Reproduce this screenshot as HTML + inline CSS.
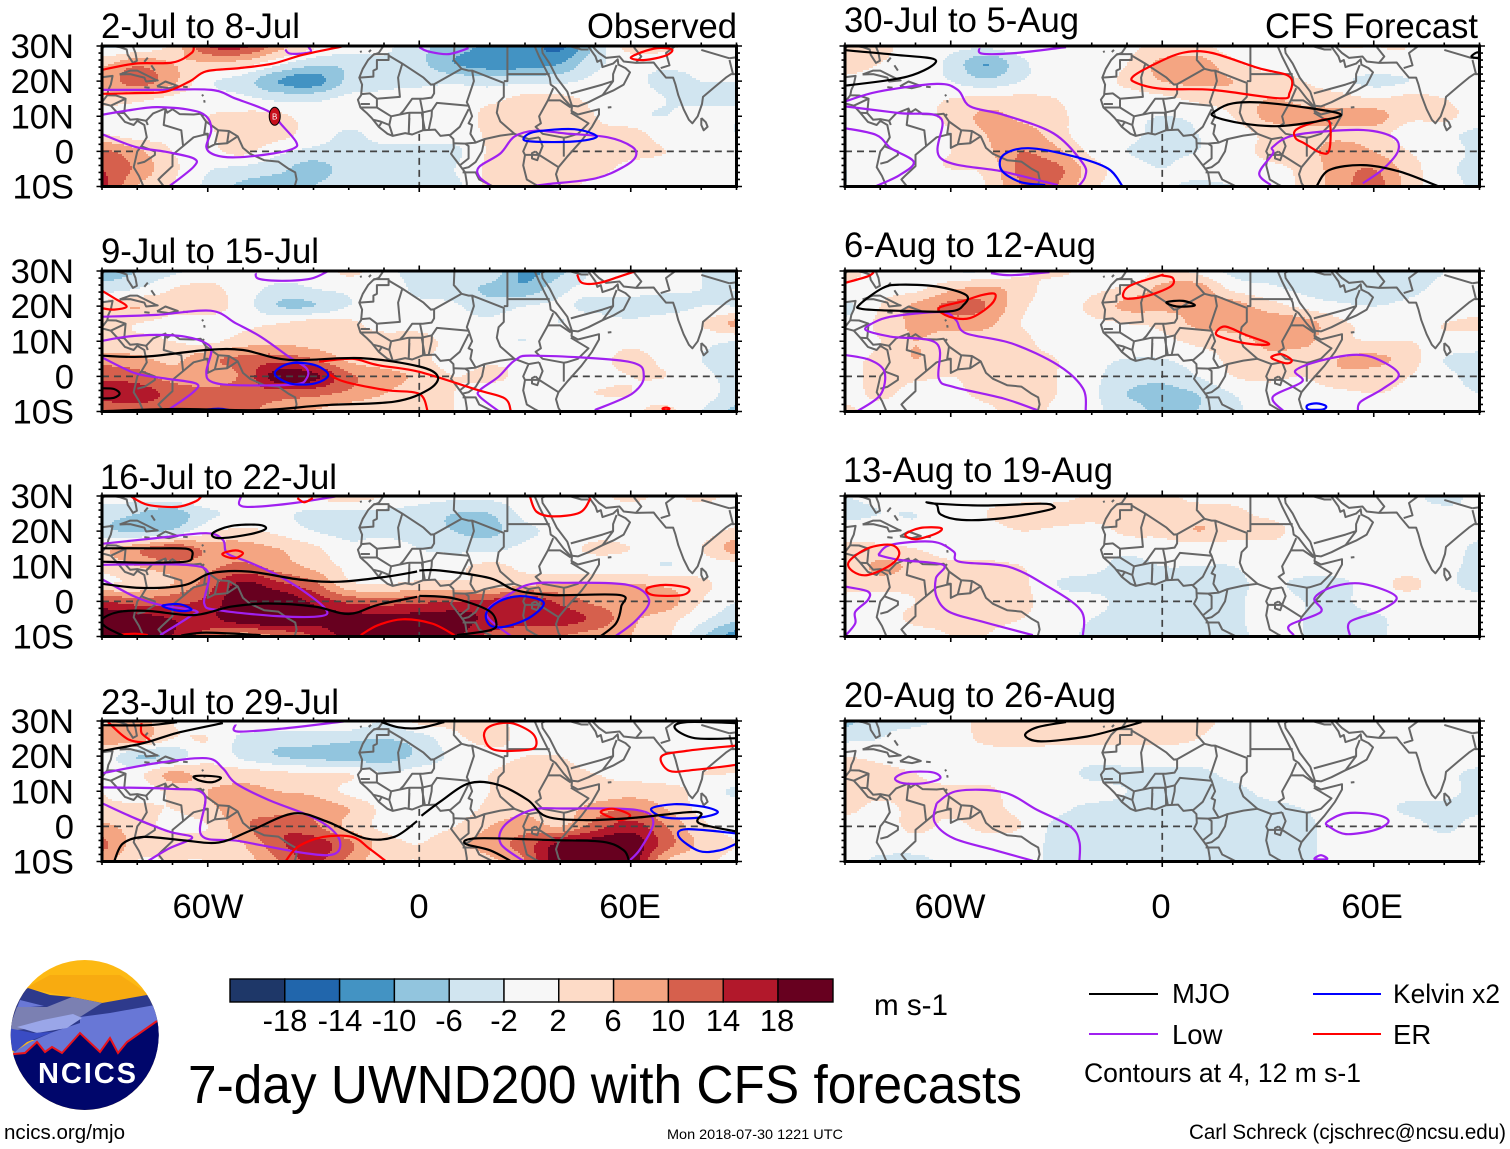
<!DOCTYPE html>
<html lang="en">
<head>
<meta charset="utf-8">
<title>7-day UWND200 with CFS forecasts</title>
<style>
html,body{margin:0;padding:0;background:#fff;width:1510px;height:1149px;overflow:hidden}
svg{display:block}
text{font-family:"Liberation Sans",Arial,sans-serif;fill:#000}
</style>
</head>
<body>
<svg id="chart" xmlns="http://www.w3.org/2000/svg" width="1510" height="1149" viewBox="0 0 1510 1149">
  <rect width="1510" height="1149" fill="#fff"/>
  <g id="panels"></g>

  <g font-size="35">
    <text x="101" y="38" font-size="35" textLength="199" lengthAdjust="spacingAndGlyphs">2-Jul to 8-Jul</text>
    <text x="587" y="38" font-size="35" textLength="150" lengthAdjust="spacingAndGlyphs">Observed</text>
    <text x="101" y="263" font-size="35" textLength="218" lengthAdjust="spacingAndGlyphs">9-Jul to 15-Jul</text>
    <text x="100" y="489" font-size="35" textLength="237" lengthAdjust="spacingAndGlyphs">16-Jul to 22-Jul</text>
    <text x="101" y="714" font-size="35" textLength="238" lengthAdjust="spacingAndGlyphs">23-Jul to 29-Jul</text>
    <text x="844" y="32" font-size="35" textLength="235" lengthAdjust="spacingAndGlyphs">30-Jul to 5-Aug</text>
    <text x="1265" y="38" font-size="35" textLength="213" lengthAdjust="spacingAndGlyphs">CFS Forecast</text>
    <text x="844" y="257" font-size="35" textLength="252" lengthAdjust="spacingAndGlyphs">6-Aug to 12-Aug</text>
    <text x="843" y="482" font-size="35" textLength="270" lengthAdjust="spacingAndGlyphs">13-Aug to 19-Aug</text>
    <text x="844" y="707" font-size="35" textLength="272" lengthAdjust="spacingAndGlyphs">20-Aug to 26-Aug</text>
  </g>

  <g id="yLabels"></g>

  <g font-size="34.6" text-anchor="middle">
    <text x="208" y="918">60W</text>
    <text x="419" y="918">0</text>
    <text x="630" y="918">60E</text>
    <text x="950" y="918">60W</text>
    <text x="1161" y="918">0</text>
    <text x="1372" y="918">60E</text>
  </g>

  <g>
    <defs><clipPath id="logoClip"><ellipse cx="84.7" cy="1035" rx="74" ry="75"/></clipPath></defs>
    <g clip-path="url(#logoClip)">
      <rect x="8" y="958" width="154" height="154" fill="#fdb913"/>
      <polygon points="26,988 50,975 120,975 150,995 102,1003" fill="#f8ab10"/>
      <polygon points="8,1000 28,988 50,995 72,997 102,1003 147,995 162,1000 162,1040 8,1040" fill="#2e3a8c"/>
      <polygon points="20,1000 44,1006 17,1008" fill="#6a78d6"/>
      <polygon points="8,1032 17,1007 47,1007 72,997 102,1003 80,1017 60,1025 17,1030" fill="#7b80b2"/>
      <polygon points="80,1017 110,1013 155,1005 162,1005 162,1060 8,1060 8,1056 30,1042 53,1032 80,1023" fill="#6877d6"/>
      <polygon points="17,1027 43,1020 73,1014 82,1018 67,1028 37,1033" fill="#9aa6e8"/>
      <polygon points="8,1028 33,1033 53,1032 27,1042 15,1052 8,1048" fill="#3a4cc4"/>
      <polygon points="8,1055 14,1054 25,1053 37,1042 45,1052 52,1047 62,1053 80,1033 100,1052 110,1038 118,1053 127,1042 157,1021 162,1018 162,1112 8,1112" fill="#00066b"/>
      <polyline points="8,1055 14,1054 25,1053 37,1042 45,1052 52,1047 62,1053 80,1033 100,1052 110,1038 118,1053 127,1042 157,1021" fill="none" stroke="#e8141c" stroke-width="2"/>
    </g>
    <text x="38" y="1083" font-size="29" font-weight="bold" textLength="98" lengthAdjust="spacing" style="fill:#fff">NCICS</text>
  </g>

  <g stroke="#000" stroke-width="1.4">
    <rect x="230" y="979" width="54.8" height="23" fill="#1e3768"/>
    <rect x="284.8" y="979" width="54.8" height="23" fill="#2166ac"/>
    <rect x="339.6" y="979" width="54.8" height="23" fill="#4393c3"/>
    <rect x="394.4" y="979" width="54.8" height="23" fill="#92c5de"/>
    <rect x="449.2" y="979" width="54.8" height="23" fill="#d1e5f0"/>
    <rect x="504" y="979" width="54.8" height="23" fill="#f7f7f7"/>
    <rect x="558.8" y="979" width="54.8" height="23" fill="#fddbc7"/>
    <rect x="613.6" y="979" width="54.8" height="23" fill="#f4a582"/>
    <rect x="668.4" y="979" width="54.8" height="23" fill="#d6604d"/>
    <rect x="723.2" y="979" width="54.8" height="23" fill="#b2182b"/>
    <rect x="778" y="979" width="55" height="23" fill="#67001f"/>
  </g>
  <g font-size="31" text-anchor="middle">
    <text x="285" y="1031">-18</text>
    <text x="340" y="1031">-14</text>
    <text x="394" y="1031">-10</text>
    <text x="449" y="1031">-6</text>
    <text x="504" y="1031">-2</text>
    <text x="558" y="1031">2</text>
    <text x="613" y="1031">6</text>
    <text x="668" y="1031">10</text>
    <text x="723" y="1031">14</text>
    <text x="777" y="1031">18</text>
  </g>
  <text x="874" y="1015" font-size="30" textLength="74" lengthAdjust="spacingAndGlyphs">m s-1</text>
  <text x="188" y="1103" font-size="54" textLength="834" lengthAdjust="spacingAndGlyphs">7-day UWND200 with CFS forecasts</text>

  <g>
    <line x1="1089" y1="994" x2="1158" y2="994" stroke="#000" stroke-width="2"/>
    <text x="1172" y="1003" font-size="27.5">MJO</text>
    <line x1="1089" y1="1034" x2="1158" y2="1034" stroke="#a020f0" stroke-width="2"/>
    <text x="1172" y="1044" font-size="27.5">Low</text>
    <line x1="1313" y1="994" x2="1381" y2="994" stroke="#0000ff" stroke-width="2"/>
    <text x="1393" y="1003" font-size="27" textLength="107" lengthAdjust="spacingAndGlyphs">Kelvin x2</text>
    <line x1="1313" y1="1034" x2="1381" y2="1034" stroke="#ff0000" stroke-width="2"/>
    <text x="1393" y="1044" font-size="27.5">ER</text>
    <text x="1084" y="1082" font-size="27" textLength="277" lengthAdjust="spacingAndGlyphs">Contours at 4, 12 m s-1</text>
  </g>

  <text x="4" y="1139" font-size="20" textLength="121" lengthAdjust="spacingAndGlyphs">ncics.org/mjo</text>
  <text x="667" y="1139" font-size="14" textLength="176" lengthAdjust="spacingAndGlyphs">Mon 2018-07-30 1221 UTC</text>
  <text x="1189" y="1139" font-size="21" textLength="317" lengthAdjust="spacingAndGlyphs">Carl Schreck (cjschrec@ncsu.edu)</text>
</svg>

<script>
// Axis tick values
const lonMajorTicks = [-60, 0, 60];
const latMajorTicks = [30, 20, 10, 0, -10];
const latTickLabels = ["30N", "20N", "10N", "0", "10S"];

// Color scale for zonal wind anomaly (m/s)
const levelBounds = [-18, -14, -10, -6, -2, 2, 6, 10, 14, 18];
const levelColors = ["#1e3768", "#2166ac", "#4393c3", "#92c5de", "#d1e5f0", "#f7f7f7", "#fddbc7", "#f4a582", "#d6604d", "#b2182b", "#67001f"];

// Wind grids: rows 30N to 10S every 5 deg, columns 90W to 90E every 10 deg
const wind1 = [
[-3,-1,3,14,15,8,3,0,-1,-5,-8,-11,-12,-15,-5,4,3,0,0],
[5,9,6,5,4,-1,-5,-5,-3,-5,-10,-12,-12,-10,-3,-1,-1,-1,0],
[7,12,7,-1,-4,-10,-12,-5,-3,-3,-3,-4,-3,-3,-1,-1,-3,-2,-2],
[4,3,1,0,-1,-3,-3,-1,-1,0,1,1,3,3,1,0,-2,-3,-2],
[0,0,0,2,3,3,0,0,0,2,0,3,3.5,4,2,-1,-2,0,-2],
[2,0,1,1.5,4,3.5,0,-2.5,-0.5,0,0,2.5,3,6,3,3.5,0,-1,-2],
[11,7,2,1,3,-1,-3,-3,-3,-3,-3,2.5,3,3,3,3,2,-1,-1],
[14,9,3,-1.5,-3,-5,-8,-4,-3,-3,-2,3,4,3.5,3,1,0,-1,-1],
[15,6,2,-3,-7,-8,-6,-3,-3,-3,-3,3,3,3,1,0,0,0,-1]];
const wind2 = [
[-8,-6,-3,0,0,0,-1,3,-1,-3,-3,-3,-11,-7,-1,1,1,-2,-3],
[-4,-2,2,3,0,-3,-2,-1,0,-3,-4,-7,-9,-3,-1,0,-1,-2,-2],
[4,6,3,4,0,-6,-6,-2,-1,-1,-1.5,-4,-2,-1.5,-3,-4,-4,-2,-2],
[3,2,1,0,1,2,4,3,0,0,-1,-1,0,-2,0,-1,1,2,7],
[3,3,2,1,4,5,4,3,4,4,0,-1,-2,0,0,1,0,-1,-2],
[8,7,5,9,11,12,10,5,3,3,0,1,1,1,1,3,1,-2,-3],
[13,12,8,7,11,20,19,11,8,5,2,3,1,1,1,2,2,-1,-3],
[15,16,13,12,12,12,11,9,6,3,2,0,0,1,2,2,0,0,-4],
[12,12,11,12,11,8,6,3,2,3,2,2,1,1,0,1,3,-2,-7]];
const wind3 = [
[0,0,1,2,0,1,3,4,2,0,-1,-1,0,0,1,3,1,3,1],
[-4,-6,-8,-3,-1,-1,-3,-3,-3,-4,-6,-6,-1,0,0,0,0,0,0],
[-5,-7,-5,1,3,1,-2,-3,-3,-4,-6,-7,-3,-1,0,0,-2,0,3],
[5,9,13,9,8,6,3,-1,0,-2,-3,-3,-1,0,3,2,0,2,8],
[3,6,8,9,11,8,5,1,0,0,1,3,1,0,0,0,-2,0,0],
[2,3,6,12,19,15,11,3,2,3,3,3,5,6,6,6,5,3,0],
[14,12,13,15,22,22,17,13,12,13,14,15,17,13,9,8,8,2,-2],
[22,20,18,17,21,23,20,20,20,20,20,17,16,16,13,7,4,-1,-5],
[20,20,18,12,8,10,14,20,22,22,19,13,11,10,8,6,3,-5,-12]];
const wind4 = [
[5,8,2,0,1,1,1,1,-2,3,3,3,1,0,0,0,0,1,1],
[9,8,2,2,-3,-4,-4,-5,-6,-4,1,3,1,0,0,0,0,1,0],
[1,-6,-5,1,-3,-6,-7,-8,-8,-5,-1,1,2,2,0,0,1,1,1],
[2,1,7,4,4,3,2,2,-2,0,0,2,3,3,2,1,1,2,2],
[2,0,3,6,7,6,5,1,-1,0,0,2,3,3,3,4,3,1,-3],
[3,3,2,5,8,8,9,6,1,0,0,3,5,4,8,10,6,1,1],
[7,4,1,2,9,13,11,5,1,0,2,6,8,6,12,16,10,3,1],
[11,4,4,4,6,13,16,11,4,2,5,8,12,19,21,21,12,5,2],
[8,2,2,2,4,10,15,9,3,2,3,5,10,22,23,21,6,3,1]];
const wind5 = [
[3,3,0,-1,-1,0,0,-1,1,3,3,0,-2,1,2,2,2,0,0],
[4,2,0,-3,-10,-3,0,-1,2,7,8,3,0,1,1,1,1,0,0],
[1,0,0,-2,-5,-2,0,0,3,6,7,6,4,2,-1,-3,-2,0,1],
[0,1,1,2,3,3,2,0,0,1,3,4,6,5,4,2,3,2,0],
[0,1,1,3,7,5,3,0,-1,-2,-1,2,7,7,7,8,3,3,0],
[-1,0,0,2,6,8,4,-1,-1,-3,-2,0,3,5,5,4,0,-1,-3],
[-1,-1,1,2,5,10,7,1,-2,-3,-2,0,3,4,8,6,2,0,-3],
[-2,0,1,2,3,11,11,4,0,-2,0,0,1,3,8,10,4,-1,-3],
[-2,-1,0,-2,2,10,10,3,0,-1,-3,-2,-1,3,8,12,4,0,-3]];
const wind6 = [
[3,1,0,-2,-2,1,3,0,-2,3,1,-3,-4,-3,-2,-3,-4,-2,0],
[1,1,1,5,7,4,0,1,3,7,8,1,-1,-3,-5,-5,-3,-1,0],
[-3,2,7,11,10,3,0,3,7,7,7,8,4,1,-1,-2,-1,-1,0],
[-1,3,7,8,7,2,0,1,2,3,7,8,9,8,3,1,1,2,3],
[0,2,6,3,4,3,0,-1,0,1,3,4,7,7,3,2,2,1,0],
[1,3,6,3,3,3,2,-1,-2,-2,0,3,5,4,6,7,4,-2,-3],
[0,4,3,2,3,3,2,-1,-4,-5,-2,2,3,2,5,4,2,-1,-3],
[0,3,0,1,3,4,2,-1,-6,-7,-6,-2,0,0,1,2,1,-1,-2],
[3,0,0,0,1,4,1,-1,-4,-7,-6,-3,0,0,0,1,0,-1,-2]];
const wind7 = [
[-2,-1,0,0,0,0,0,3,4,3,1,1,0,0,0,0,-1,-3,-1],
[-3,-2,-2,-1,2,5,5,4,4,3,4,3,1,0,0,0,-1,-1,-2],
[0,0,-1,0,0,2,1,0,3,3,6,4,4,0,0,0,0,0,-1],
[3,3,2,0,0,0,0,-1,-1,0,0,0,0,0,0,0,0,0,-3],
[3,7,5,3,3,2,0,-1,-3,-2,-2,-2,0,0,0,0,0,-1,-3],
[3,4,3,3,4,3,-2,-3,-3,-3,-3,-3,-1,-3,-3,0,3,-1,-3],
[1,0,2,3,4,3,0,-1,-3,-3,-3,-3,0,-2,-3,0,0,0,-1],
[0,0,3,3,3,2,0,-2,-3,-3,-3,-3,0,-2,-3,-3,0,0,0],
[0,-1,0,2,2,0,0,-3,-3,-3,-3,-3,-1,-2,-3,-3,0,0,0]];
const wind8 = [
[-7,-3,-3,0,3,3,3,3,3,3,3,1,0,0,0,1,2,0,-1],
[-3,-2,0,0,3,4,3,3,3,3,2,0,0,0,0,0,0,0,0],
[2,1,0,0,0,0,0,0,0,0,0,0,0,0,0,0,0,0,0],
[3,3,2,0,0,0,0,-3,-3,-3,-3,-1,0,0,0,0,0,-1,-3],
[3,3,3,3,3,0,0,0,-2,-3,-3,-3,-1,0,0,0,0,-1,-3],
[3,1,3,3,3,1,-1,-3,-3,-3,-3,-3,-3,-2,0,0,-3,-3,-3],
[0,0,3,1,3,2,-3,-3,-3,-3,-3,-3,-3,-3,0,2,0,-3,0],
[0,0,0,0,0,0,-3,-3,-3,-4,-3,-3,-3,-3,0,0,0,0,0],
[0,-3,-3,-1,0,0,-3,-3,-3,-3,-3,-3,-3,-3,0,0,0,0,0]];

// Contour lines: [lons, lats, closed]
const mjo1 = [];
const low1 = [
[[-90,-74.5,-59,-52,-42.6,-39,-35,-35.5,-41.5,-52,-58,-60.4,-59,-60.4,-65,-74.5,-83,-90],[17.5,17.5,17.5,15,11.3,7.5,2.8,0.9,-0.6,-1.7,-1,1.3,6.1,10,11.8,12.6,11.6,10.4],false],
[[-90,-80.6,-72,-64,-64,-71],[4.9,1.3,-0.1,-2,-4.4,-10],false],
[[-38,-36.5,-31,-31.4],[29,27.8,28.2,29.7],false],
[[0,2.4,8.3,14],[29.7,28.5,27.7,29.4],false],
[[20,17,17,23,27,33,41.5,53.5,60.4,61.4,58,50,36.7,33],[-9.6,-7.2,-4.4,-0.6,4.2,5.9,5.1,4,1.3,-1.5,-4.4,-7.7,-9.3,-9.8],false]];
const kelvin1 = [[[29.6,33,44,50.4,43.8,32],[3.7,5.6,6.3,4.2,2.8,2.8],true]];
const er1 = [
[[-90,-80.6,-70,-64.6,-64],[23.2,25,25.3,28,30],false],
[[-90,-80.6,-72,-65,-60.4,-51,-41.5,-33,-21.3],[16.4,16.6,17,20,22.8,23.7,25,27.5,30],false],
[[60,63,67.5,71.7,70,64],[26.6,28.2,29.4,29,27.3,26],true]];

const mjo2 = [
[[-90,-78,-60.4,-50,-37,-16.6,0,5.3,2.4,-7.1,-27,-45,-68.7,-90],[5.9,5.6,7.5,7.5,4.7,5.2,2.8,-0.1,-3.9,-7.2,-8.2,-9.6,-9.3,-9.9],false],
[[-90,-86.6,-85,-86.6,-90],[-3.4,-3.6,-4.9,-6.1,-6.3],false]];
const low2 = [
[[-90,-74.6,-59.2,-52,-45,-37,-32,-32,-35.5,-52,-59,-60.4,-59,-60.4,-66.4,-74.6,-83,-90],[17,17.5,18.7,15.1,11.3,5.6,2.3,-0.6,-2.3,-2.5,-1.5,1.3,7,9.4,11.3,11.8,11.3,10.1],false],
[[-90,-80.6,-72,-63.4,-64,-71.7],[5.4,0.9,-0.6,-2,-4.4,-9.9],false],
[[-46.4,-45.6,-39,-30.8,-26],[29.4,27.8,27.2,27.8,29.9],false],
[[22.5,17.2,17.2,22.5,27.3,33,59.2,63.7,60.4,49.8],[-9.9,-5.8,-3.9,-0.1,4.7,5.9,4.2,0.2,-4.9,-9.6],false]];
const kelvin2 = [
[[-62.8,-57,-53.3],[-9.7,-9.2,-9.7],false],
[[-41,-36.7,-29.6,-25.8,-29.6,-36.7],[0.9,3.7,3.2,0.4,-2,-2],true]];
const er2 = [
[[-90,-86.6,-83,-86.6,-90],[24.4,22.3,19.9,19,19.4],false],
[[44.8,46.2,51,57,61.6],[29,26.6,26.6,28.5,30],false],
[[-28.4,-19,-11.8,0,16.6,24.3,26],[4.2,5,3.2,1.3,-3.9,-6.3,-10],false],
[[-26,-21.3,-9.5,0,2.4],[0.9,-1.5,-3.9,-5,-10],false],
[[69,70,71,70],[-9.2,-8.9,-9.2,-9.7],true]];

const mjo3 = [
[[-58.6,-53.3,-45.6,-43.6,-48.6,-56.9],[19.4,21.5,21.8,20.6,19,18],true],
[[-90,-74.6,-65.6,-64.4,-66.4,-77,-90],[15.1,15.1,14.9,12.8,11.3,11,11.3],false],
[[-90,-78.2,-66.4,-59.2,-48.6,-33.2,-22.5,-9.5,-0.6],[5,3.8,4.7,8,8.5,6.1,5.6,7,8.5],false],
[[0,5.9,20.1,27.2,37.9,57,57.3,55.8,51.5],[8.8,8.8,6.6,3.2,1.8,1.8,-1.5,-6.3,-9.9],false],
[[-84,-89,-90,-85.3,-77,-64,-53.3,-42.7,-29.6,-20,-11.8,-0.6],[-9.8,-7.2,-5.1,-3,-2.7,-3.9,-1.5,-0.6,-1.5,-3.6,-1,1.3],false],
[[0,9.5,19.5,21.9,20.1,10.7],[1.6,0.9,-2.5,-6.3,-8.2,-9.6],false],
[[-67.5,-60.4,-45],[-9.7,-8.9,-9.6],false]];
const low3 = [
[[-90,-74.6,-60.4,-55.7,-54.5,-48.6,-40.3,-33.2,-26.7,-27.8,-40.3,-56.9,-61,-59.8,-66.4,-90],[16.4,18,19.4,17.5,13.7,11.3,7.5,3.2,-2,-4.2,-4.2,-2.5,-0.6,8,10.4,10.4],false],
[[-90,-80.6,-73.5,-63.4,-65.2,-73.5],[6.3,1.3,-1,-2.7,-4.4,-9.6],false],
[[-50.6,-51,-47.4,-35.5,-23.7],[29.7,27.5,26.9,28,29.9],false],
[[26,19,26,32,41.5,59.2,65.2,61.6,55.7],[-9.9,-3.4,2.3,5,5.3,4.7,0.4,-5.3,-9.9],false]];
const kelvin3 = [
[[-72.9,-68.1,-64.6,-68.1],[-1.3,-0.8,-2.3,-2.7],true],
[[19,22.5,28.4,34.4,35,30.8,24.3,20.1],[-3.4,-0.1,1.5,0.4,-1.5,-4.9,-7.2,-6.8],true]];
const er3 = [
[[-81.8,-77,-68.7,-63.4,-61.8],[29.9,27.5,26.9,28.5,29.9],false],
[[-34.6,-32.6,-30.2],[29.4,28.2,29.4],false],
[[31.4,33.2,37.9,45.6,48.6],[29.9,25.6,24.2,25.3,29.4],false],
[[-55.7,-52.1,-50,-52.1,-55],[13.7,14.5,13.7,12.3,12.8],true],
[[64.6,69.9,76.4,74.6,66.3],[3.7,4.7,3.7,1.8,1.8],true],
[[-16.6,-11.8,-4.7,3.6,10],[-9.6,-6.8,-5.1,-6.3,-9.6],false],
[[-85,-80.6,-77],[-9.5,-9.2,-9.6],false]];

const mjo4 = [
[[-90,-77,-68.7],[28.8,28.8,29.7],false],
[[-90,-78.2,-68.7,-55.7],[21.5,23.7,26.6,29.4],false],
[[-64,-60.4,-56.3,-58.6,-62.2],[14.2,14.4,13.9,12.6,13],true],
[[-10.7,-5.9,0,7.1],[29.7,28.2,28,29.7],false],
[[-86.5,-84.1,-78.2,-67.5,-56.9,-47.4,-35.5,-26,-15.4,-7.1,-0.6],[-9.9,-4.9,-3,-3.9,-4.6,-1,3.7,1.3,-3.4,-3,1.5],false],
[[0.6,5.9,14.2,22.5,30.8,36.1,47.4,61.6,75.8,80,79.4,90],[3,7,12.3,11.8,7.5,2.8,1.8,2.5,4,3.7,0.9,-1.5],false],
[[26,20.1,13,16.6,37.9,52.1,58,59.5],[-9.9,-6.8,-4.9,-3.4,-3.9,-4.4,-6.8,-9.9],false],
[[90,75.8,72.5,78.2,90],[29.4,29.7,28,25.1,25.1],false]];
const low4 = [
[[-90,-74.6,-60.4,-55.7,-52.1,-42.7,-29.6,-23,-23.7,-32,-51,-61.8,-61,-71,-90],[15.1,18,19.4,16.5,12.3,7.5,2.3,-3,-7.7,-7.7,-4.2,-2.5,9,10.7,11.1],false],
[[-90,-80.6,-71,-64.4,-71,-77],[6.6,2.3,-1.5,-3.2,-6.3,-9.9],false],
[[-52.1,-51.6,-39.1,-21.3],[29,27,27.8,29.9],false],
[[29.6,23.1,24.3,32,41.5,61.6,66.4,62.8,59.5],[-9.9,-4.9,0.4,4.7,5.1,4.7,1.3,-6.3,-9.9],false]];
const kelvin4 = [
[[65.8,72.3,80.6,84.7,79.4,69.9],[5,6.3,5.6,4,2.5,2.5],true],
[[90,75.8,73.7,79.4,85.3,90],[-2,-0.8,-3,-7,-6.8,-4.9],false]];
const er4 = [
[[-88.3,-82.4,-76.4,-78.8,-78.8],[29.7,24.7,24.2,26.6,29.4],false],
[[18.4,20.1,26,32,33.2,30.8,21.3],[25.6,28.5,29.4,26.6,23.2,21.8,21.8],true],
[[90,75.8,68.7,71,78.2,90],[23,21.5,19.9,15.8,16.1,17.5],false],
[[51.5,55.1,59.8,57],[4,5,3.2,1.8],true],
[[-37.9,-34.4,-27.3,-19,-14.2,-9.5],[-9.9,-5.8,-3,-3,-6.3,-9.9],false]];

const mjo5 = [
[[-90,-75.8,-64.2,-72.3,-90],[28.8,27.5,25.9,21.3,18.7],false],
[[14.8,20.1,30.8,49.8,46.2,33.2,22.5,14.8],[11.3,13.7,13.7,10.9,9,7.2,8,9.9],true],
[[43.8,47.4,57,67.5,78.2],[-9.9,-5.3,-3.9,-5.8,-9.9],false],
[[87.7,89.5,90],[27,28.2,26.6],true]];
const low5 = [
[[-90,-80.6,-64,-58,-54.5,-45,-30.8,-22.5,-21.9,-23.7],[14.2,17,19.2,17.5,12.8,10.4,5.1,-3.4,-7.2,-9.9],false],
[[-90,-74.6,-62.8,-62.8,-45,-29.6],[12.8,10.9,9.4,-2,-5.8,-9.6],false],
[[-90,-81.2,-77,-70.5,-74.6,-81.2],[6.6,4.7,0.9,-3,-6.8,-9.9],false],
[[-51.9,-51,-41.5,-27.3],[29.4,27.8,28,29.7],false],
[[30.8,27.5,31.4,31.4,37.9,55.7,65.2,67,62.8,56.9],[-9.6,-6.3,-0.6,1.3,4.7,6.1,4.2,0.4,-4.9,-9.1],false]];
const kelvin5 = [[[-11.3,-15.4,-24.9,-37.9,-45,-45.6,-40.3,-33.2],[-9.9,-4.9,-1.5,0.9,-1,-5.3,-8.7,-9.6],false]];
const er5 = [
[[-0.6,6.5,14.2,27.3,36.1,36.1,33.2,14.2,0,-7.1,-8.3],[25.6,28.2,28,23.7,21.3,16.6,15.1,17.5,17.8,19.4,21.3],true],
[[37.9,43.8,47.4,47.4,45,40.3,37.9],[6.1,8.5,8.5,0.4,-0.4,2.3,3.7],true]];

const mjo6 = [
[[-85.9,-79.4,-74.6,-64,-55.7,-56.3,-60.4,-75.8,-85.2],[20.4,25.1,26.1,25.6,23.2,20.4,18.5,18.7,19.2],true],
[[1.2,5.9,9.2,4.1],[21.1,21.5,20.2,19.9],true]];
const low6 = [
[[-82.3,-77,-62.8,-58.6,-55.7,-42.7,-29.6,-22.5,-21.7],[15.1,17,18.3,16.1,12.3,9.4,3.2,-3.4,-9.9],false],
[[-82.3,-84.1,-77,-64,-63.4,-59.2,-45,-35.5],[15.1,13.2,11.3,9.4,-0.6,-3,-6.3,-9.6],false],
[[-90,-83,-78.8,-80,-86.5],[6.1,4.7,1.3,-5.3,-9.9],false],
[[-48.6,-42.7,-32],[29.4,28.8,29.7],false],
[[34.4,31.4,39.7,37.9,47.4,58,67,62.8,56.3,55.5],[-9.9,-5.8,-1.5,1.8,5.1,5.9,0.9,-3.4,-7.2,-9.9],false]];
const kelvin6 = [[[41.2,43.8,46.4,45.6,41.5],[-8.2,-7.7,-8.4,-9.4,-9.4],true]];
const er6 = [
[[-90,-83.5,-81.8],[26.6,28.5,29.7],false],
[[-63.4,-56.9,-51,-47.4,-48.6,-54.5,-60.4],[19.4,21.3,23.2,23.4,20.4,16.6,17],true],
[[-10.7,-9.5,-0.6,0,3,2.4,-4.7],[22.3,25.6,28.7,28.7,28,25.6,22.8],true],
[[15.2,17.8,23.7,29.6,29.6,23.7,17.2],[12.3,14.2,11.8,9.7,9,9.4,11],true],
[[31,33.8,36.7,35.5,32],[5.6,6.3,4.7,3.7,4.7],true]];

const mjo7 = [[[-66.9,-64,-62.8,-56.9,-45,-32,-31,-34.4,-51,-64],[28.2,27.5,24.7,23.2,23.7,26.1,27.2,27.8,27.3,27.8],true]];
const low7 = [
[[-80.6,-77,-65.2,-59.2,-57.6,-43.8,-33.2,-23.1,-22.5],[13.2,16.1,17,14.2,11.3,9.9,4.7,-2.5,-9.9],false],
[[-80.6,-74.6,-62.2,-64.2,-64,-60.4,-51,-36.7],[13.2,11.8,10.4,6.6,1.3,-3,-5.8,-9.6],false],
[[-90,-83.5,-83.5,-87.1,-87.1,-90],[4.2,2.8,0.4,-3,-6.3,-9.9],false],
[[37.3,36.1,45,43.2,48.6,56.9,66.4,61.6,53.3,53.3],[-9.6,-6.8,-3,0.9,4.2,5,1.3,-2.7,-5.8,-9.9],false]];
const kelvin7 = [];
const er7 = [
[[-72.9,-68.7,-62.8,-64,-69.9],[19,20.9,20.9,19.4,17.7],true],
[[-88.9,-83.5,-77,-74.6,-77,-83.5,-87.7],[11.3,15.1,16.1,13.7,10.4,7.5,8.5],true]];

const mjo8 = [[[-27.3,-35.5,-38.9,-34.4,-21.3,-11.8,-5.9],[29.7,28.2,25.9,24.2,25.6,28,29.7],false]];
const low8 = [
[[-75.8,-72.3,-65.2,-63,-67.5,-73.5],[13.7,15.4,15.4,13.7,12.3,12.3],true],
[[-64,-58,-45,-35.5,-26,-23.5,-23.5],[6.6,10.1,9.7,4.7,-0.1,-4.4,-9.9],false],
[[-64,-64.6,-59.2,-47.4,-36.7],[6.6,1.3,-3.4,-6.8,-9.8],false],
[[46.8,52.1,60.4,64.2,60.4,52.1,47.4],[1.3,3.7,3.4,1.5,-1,-2.2,-0.1],true],
[[43.2,45,46.8],[-9.3,-8.2,-9.3],true]];
const kelvin8 = [];
const er8 = [];

// Tropical cyclone marker position in panel 1 [lon, lat]
const stormMarkers1 = [[-41, 10]];

// Base map (lon, lat pairs)
const mapCoasts = [
[[-90,29.2],[-89,30.3],[-85,29.7],[-83,29],[-82.7,27.5],[-81.2,25.2],[-80.1,25.8],[-80.5,28],[-81.3,30],[-81,31]],
[[-90,21.1],[-87,21.5],[-87.5,19],[-88.2,17.5],[-88.5,16],[-86,15.9],[-83.3,15],[-83.6,12],[-83.7,10.9],[-82,9],[-80,9.2],[-77.5,8.7],[-75.5,10.8],[-72,12.2],[-71.5,11],[-70,12],[-68,10.6],[-64,10.5],[-62,10.7],[-60.5,8.5],[-57,6],[-54,5.8],[-51.5,4.3],[-50,1],[-48,-0.7],[-44,-2.5],[-40,-2.9],[-37,-5],[-35.2,-6],[-34.8,-8],[-35.5,-10.5]],
[[-90,13.7],[-87.5,13],[-85.7,11],[-83.5,8.4],[-81,7.5],[-80,8.7],[-78,7.5],[-77.3,4],[-78.8,1.5],[-80,0],[-81,-4.5],[-79.5,-7],[-78,-10.5]],
[[-85,21.9],[-82,23],[-80,23],[-75,20.5],[-74.2,20.2],[-77.5,19.9],[-78,21],[-82,22],[-85,21.9]],
[[-74.4,18.5],[-72,19.9],[-68.5,18.6],[-71,18],[-74.4,18.5]],
[[-78,18.3],[-76.5,18.1]],[[-67,18.4],[-65.7,18.3]],[[-78,25.5],[-77,26.7]],[[-76,24.5],[-75,23]],[[-61.6,16.2],[-61.3,15.7]],[[-61,14.6],[-60.9,13.9]],[[-61.5,10.6],[-61,10.2]],[[-16.8,28.3],[-16.3,28.5]],[[-14.3,28.3],[-13.7,28.9]],[[53.5,12.5],[54.5,12.6]],
[[-9.8,30.5],[-11.5,28],[-13,27.5],[-14.5,26],[-16,23.5],[-17,21],[-16.2,19],[-16.5,16],[-17.4,14.7],[-16.7,12.5],[-15,11],[-13.5,9.5],[-11.5,7],[-9,5],[-7.5,4.4],[-4,5.2],[-2,4.8],[1,6],[4.5,6.2],[6,4.4],[8.5,4.7],[9.7,3.5],[9.8,1],[9,-0.7],[11.5,-4],[13,-6],[13.5,-9],[13.5,-10.5]],
[[32.5,30.5],[34,27],[35.5,24],[37,21],[37.3,19],[38.7,18],[41,15],[43.3,12.5],[43.2,11.5],[45,10.5],[51,12],[51,10.5],[49,7],[46,3],[42,-1.5],[39.5,-4.5],[38.8,-6.5],[39.5,-9],[40.5,-10.5]],
[[34.8,29.5],[35,28],[37,25],[39,21],[42,17],[43.3,13],[45,12.8],[48,14],[52,16],[55,17.3],[58,19],[59.8,22.5],[58.5,23.7],[56.5,24.7],[56.3,26.2],[55,25],[52,24],[51.5,26],[50.5,25.5],[50,27],[48,29.8]],
[[48.5,30.5],[51,28],[53,26.6],[56.8,27],[58,25.6],[61.5,25.2],[66.5,25.3],[67.5,24],[70,21],[72,21],[72.7,19],[73.5,16],[75,12],[76.5,9],[77.5,8],[79,10],[80.2,13.5],[80.5,15.5],[84,18.5],[87,21],[88.5,22],[90,22]],
[[80,9.5],[81.3,8.3],[81.8,7],[80.7,6],[80,7.5],[80,9.5]],
[[33,0],[34,-1],[33.5,-2.5],[32,-2],[32,-0.5],[33,0]]
];
const mapBorders = [
[[-13,27.7],[-8.7,27.7],[-8.7,26],[-12,26],[-12,23.5],[-13,23],[-13,21.3],[-17,21]],
[[-8.7,27.3],[-4.8,25],[-6,21],[-5.5,15.5],[-12,15],[-14,16.5],[-16.4,16.3]],
[[-4.8,25],[1.2,21],[3.3,19],[4.2,19.1],[4.2,16.5],[3.5,15.3],[1,15],[0.2,15],[-2,15],[-4.5,11.5],[-5.5,10.5],[-8,10],[-8.5,7.5],[-7.5,4.4]],
[[4.2,19.1],[12,23.5],[14,23],[15,23],[24,19.5],[24,15.5],[22.5,14],[22,11],[23,8.5],[27,5],[31,3.5]],
[[25,30.5],[25,20],[24,20]],[[25,22],[37,22]],
[[15,23],[15.5,20],[13.5,14],[14,13],[15,10],[14,8],[15,7.5],[14.5,5],[16,2.5],[18.5,3.5],[23,4.5],[27,5]],
[[10,30.5],[9.8,26],[12,23.5]],
[[-72,12],[-72.5,7.5],[-67.5,6],[-67,1.5],[-70,-1],[-70,-4.2],[-73,-7],[-74,-8],[-72,-10.5]],
[[-60.5,8.5],[-61,5],[-60,5],[-64,4],[-67,1.5]],[[-57,6],[-58,2]],[[-54,5.8],[-54.5,2.3]],[[-51.5,4.3],[-54.5,2.3],[-58,2],[-60,1],[-60,5]],
[[-79,1.5],[-75,0],[-75,-1],[-78,-3],[-80,-3.5]],[[-77.5,8.7],[-77,7.5]],[[-83.7,10.9],[-85.7,11]],[[-83.3,15],[-87.5,13]],[[-88.5,16],[-90,14]],
[[36.5,14.5],[34,10],[34.5,8],[33,7],[35,5],[41,3.9],[41.8,4],[45,5],[48,8],[43,11]],[[36.5,14.5],[38,18]],[[36.5,14.5],[40,14.5],[43,12.5]],[[41,-1.5],[41,3.9]],[[34,4],[35,1.5],[34,-1],[39.5,-4.5]],[[30,-1],[34,-1]],[[31,3.5],[34,4]],[[30,-1],[29.5,-4],[30.5,-8],[33,-9.5],[35,-10.5]],[[31,3.5],[29.5,0],[30,-1]],
[[12.3,-6],[16,-6],[17,-8],[22,-10.5]],[[12,-5],[14,-4.5],[16,-3],[17.8,0],[18.5,3.5]],
[[9.7,2.3],[13,2.2],[14,1.5],[14,-2],[11.5,-4]],[[13,2.2],[16,2.5]],
[[8.7,4.6],[11.5,7],[14,12]],[[2.7,6.3],[3.5,10],[3.6,11.7],[5,13.8],[14,13]],
[[-3,5],[-2.8,11],[1,11],[1.1,6]],[[1.6,6],[0.7,11],[3.6,11.7]],[[-3,11],[-5.5,10.5]],[[-2.8,9.5],[-3,5]],[[-13,9],[-11,8.5],[-8.5,7.5]],[[-11.5,7],[-10.5,8.5]],[[-12,12.5],[-8,10]],[[-16.7,12.5],[-12,12.5],[-12,15]],[[-16.6,13.5],[-14,13.5]],[[0.2,15],[1,11]],
[[34.8,29.5],[37,30.5]],[[39,31],[46,29],[48,29]],[[43,16.5],[52,19],[55,20],[52,16]],[[55,20],[55,22],[56,24.6]],
[[61.5,25.2],[63,27],[61,29.5],[61,31]],[[68.5,23.7],[71,24.5],[70,28],[74,31]],[[80,28.9],[88,26.5]],[[88,26],[89,22]],[[88,26.5],[90,26.8]]
];

const panelWidth = 634.5;
const panelHeight = 140.5;
const latTop = 30;
const latBottom = -10;

const panels = [
  {id:"panel-jul-2", x0:102, y0:46, wind:wind1, mjo:mjo1, low:low1, kelvin:kelvin1, er:er1},
  {id:"panel-jul-9", x0:102, y0:271, wind:wind2, mjo:mjo2, low:low2, kelvin:kelvin2, er:er2},
  {id:"panel-jul-16", x0:102, y0:496, wind:wind3, mjo:mjo3, low:low3, kelvin:kelvin3, er:er3},
  {id:"panel-jul-23", x0:102, y0:721, wind:wind4, mjo:mjo4, low:low4, kelvin:kelvin4, er:er4},
  {id:"panel-jul-30", x0:845, y0:46, wind:wind5, mjo:mjo5, low:low5, kelvin:kelvin5, er:er5},
  {id:"panel-aug-6", x0:845, y0:271, wind:wind6, mjo:mjo6, low:low6, kelvin:kelvin6, er:er6},
  {id:"panel-aug-13", x0:845, y0:496, wind:wind7, mjo:mjo7, low:low7, kelvin:kelvin7, er:er7},
  {id:"panel-aug-20", x0:845, y0:721, wind:wind8, mjo:mjo8, low:low8, kelvin:kelvin8, er:er8}
];

const SVGNS = "http://www.w3.org/2000/svg";
function xScale(p, lon) { return p.x0 + (lon + 90) / 180 * panelWidth; }
function yScale(p, lat) { return p.y0 + (latTop - lat) / (latTop - latBottom) * panelHeight; }
function make(tag, parent) {
  const el = document.createElementNS(SVGNS, tag);
  parent.appendChild(el);
  return el;
}
function crom(a, b, c, d, t) {
  return 0.5 * (2 * b + (c - a) * t + (2 * a - 5 * b + 4 * c - d) * t * t + (3 * b - a - 3 * c + d) * t * t * t);
}
function sampleField(g, lon, lat) {
  const fx = Math.max(0, Math.min(18, (lon + 90) / 10));
  const fy = Math.max(0, Math.min(8, (latTop - lat) / 5));
  const ix = Math.min(17, Math.floor(fx)), iy = Math.min(7, Math.floor(fy));
  const tx = fx - ix, ty = fy - iy;
  const vals = [];
  for (let j = -1; j <= 2; j++) {
    const r = g[Math.max(0, Math.min(8, iy + j))];
    vals.push(crom(r[Math.max(0, ix - 1)], r[ix], r[ix + 1], r[Math.min(18, ix + 2)], tx));
  }
  return crom(vals[0], vals[1], vals[2], vals[3], ty);
}
function levelOf(v) {
  let i = 0;
  while (i < levelBounds.length && v >= levelBounds[i]) i++;
  return i;
}
function smoothPath(pts, closed) {
  const n = pts.length;
  const at = function (i) {
    return closed ? pts[(i + n) % n] : pts[Math.max(0, Math.min(n - 1, i))];
  };
  let d = "M" + pts[0][0].toFixed(1) + " " + pts[0][1].toFixed(1);
  const segs = closed ? n : n - 1;
  for (let i = 0; i < segs; i++) {
    const p0 = at(i - 1), p1 = at(i), p2 = at(i + 1), p3 = at(i + 2);
    d += "C" + (p1[0] + (p2[0] - p0[0]) / 6).toFixed(1) + " " + (p1[1] + (p2[1] - p0[1]) / 6).toFixed(1) + " " +
      (p2[0] - (p3[0] - p1[0]) / 6).toFixed(1) + " " + (p2[1] - (p3[1] - p1[1]) / 6).toFixed(1) + " " +
      p2[0].toFixed(1) + " " + p2[1].toFixed(1);
  }
  return d + (closed ? "Z" : "");
}
function drawFill(p, g) {
  const cell = 2;
  const paths = levelColors.map(function () { return ""; });
  for (let py = 0; py < panelHeight; py += cell) {
    const lat = latTop - (py + cell / 2) / panelHeight * (latTop - latBottom);
    let runStart = 0, runLevel = -1;
    for (let px = 0; px <= panelWidth + cell; px += cell) {
      const lon = -90 + (px + cell / 2) / panelWidth * 180;
      const lev = px <= panelWidth ? levelOf(sampleField(p.wind, lon, lat)) : -2;
      if (lev !== runLevel) {
        if (runLevel >= 0) {
          paths[runLevel] += "M" + (p.x0 + runStart) + " " + (p.y0 + py) + "h" + (px - runStart) + "v" + cell + "h" + (runStart - px) + "z";
        }
        runStart = px;
        runLevel = lev;
      }
    }
  }
  paths.forEach(function (d, i) {
    if (!d || i === 5) return;
    const el = make("path", g);
    el.setAttribute("d", d);
    el.setAttribute("fill", levelColors[i]);
    el.setAttribute("shape-rendering", "crispEdges");
    
    
  });
}
function drawMapLines(p, g, lines, name) {
  let d = "";
  lines.forEach(function (line) {
    line.forEach(function (pt, i) {
      d += (i ? "L" : "M") + xScale(p, pt[0]).toFixed(1) + " " + yScale(p, pt[1]).toFixed(1);
    });
  });
  const el = make("path", g);
  el.setAttribute("d", d);
  el.setAttribute("fill", "none");
  el.setAttribute("stroke", "#666");
  el.setAttribute("stroke-width", "2");
  el.setAttribute("stroke-linejoin", "round");
  
  
}
function drawContours(p, g, lines, color, name) {
  lines.forEach(function (line) {
    const lons = line[0], lats = line[1];
    const pts = lons.map(function (lon, i) { return [xScale(p, lon), yScale(p, lats[i])]; });
    const el = make("path", g);
    el.setAttribute("d", smoothPath(pts, line[2]));
    el.setAttribute("fill", "none");
    el.setAttribute("stroke", color);
    el.setAttribute("stroke-width", "2.2");
    
    
  });
}
function drawDash(g, x1, y1, x2, y2, name) {
  const el = make("line", g);
  el.setAttribute("x1", x1);
  el.setAttribute("y1", y1);
  el.setAttribute("x2", x2);
  el.setAttribute("y2", y2);
  el.setAttribute("stroke", "#444");
  el.setAttribute("stroke-width", "1.7");
  el.setAttribute("stroke-dasharray", "7 5");
  
  
}
function drawTicks(p, g) {
  let d = "";
  for (let lon = -90; lon <= 90; lon += 10) {
    const x = xScale(p, lon), y0 = yScale(p, latTop), y1 = yScale(p, latBottom);
    const len = lonMajorTicks.indexOf(lon) >= 0 ? 5.5 : 3.5;
    d += "M" + x + " " + y0 + "v-" + len + "M" + x + " " + y1 + "v" + len;
  }
  for (let lat = latBottom; lat <= latTop; lat += 2) {
    const y = yScale(p, lat), x0 = xScale(p, -90), x1 = xScale(p, 90);
    const len = lat % 10 === 0 ? 5.5 : 3.5;
    d += "M" + x0 + " " + y + "h-" + len + "M" + x1 + " " + y + "h" + len;
  }
  const el = make("path", g);
  el.setAttribute("d", d);
  el.setAttribute("stroke", "#000");
  el.setAttribute("stroke-width", "1.6");
  el.setAttribute("fill", "none");
  
  
}

const root = document.getElementById("panels");
const defs = make("defs", root);
panels.forEach(function (p) {
  const clip = make("clipPath", defs);
  clip.setAttribute("id", "clip-" + p.id);
  const cr = make("rect", clip);
  cr.setAttribute("x", p.x0);
  cr.setAttribute("y", p.y0);
  cr.setAttribute("width", panelWidth);
  cr.setAttribute("height", panelHeight);

  const g = make("g", root);
  
  

  const inner = make("g", g);
  inner.setAttribute("clip-path", "url(#clip-" + p.id + ")");
  
  

  const bg = make("rect", inner);
  bg.setAttribute("x", p.x0);
  bg.setAttribute("y", p.y0);
  bg.setAttribute("width", panelWidth);
  bg.setAttribute("height", panelHeight);
  bg.setAttribute("fill", levelColors[5]);
  
  

  drawFill(p, inner);

  // Reference lines appear over ocean only
  const y0 = yScale(p, 0);
  drawDash(inner, xScale(p, -90), y0, xScale(p, -80), y0, "equator-line");
  drawDash(inner, xScale(p, -48), y0, xScale(p, 9), y0, "equator-line");
  drawDash(inner, xScale(p, 43), y0, xScale(p, 90), y0, "equator-line");
  drawDash(inner, xScale(p, 0), yScale(p, 5), xScale(p, 0), yScale(p, -10), "prime-meridian-line");

  drawMapLines(p, inner, mapBorders, "country-borders");
  drawMapLines(p, inner, mapCoasts, "coastlines");

  drawContours(p, inner, p.low, "#a020f0", "low-contour");
  drawContours(p, inner, p.er, "#ff0000", "er-contour");
  drawContours(p, inner, p.kelvin, "#0000ff", "kelvin-contour");
  drawContours(p, inner, p.mjo, "#000000", "mjo-contour");

  const frame = make("rect", g);
  frame.setAttribute("x", p.x0);
  frame.setAttribute("y", p.y0);
  frame.setAttribute("width", panelWidth);
  frame.setAttribute("height", panelHeight);
  frame.setAttribute("fill", "none");
  frame.setAttribute("stroke", "#000");
  frame.setAttribute("stroke-width", "3");
  
  

  drawTicks(p, g);
});

// Tropical cyclone marker
stormMarkers1.forEach(function (s) {
  const p = panels[0];
  const cx = xScale(p, s[0]), cy = yScale(p, s[1]);
  const e = make("ellipse", root);
  e.setAttribute("cx", cx);
  e.setAttribute("cy", cy);
  e.setAttribute("rx", 5.5);
  e.setAttribute("ry", 9);
  e.setAttribute("fill", "#c8101c");
  e.setAttribute("stroke", "#000");
  e.setAttribute("stroke-width", "1");
  
  
  const t = make("text", root);
  t.setAttribute("x", cx);
  t.setAttribute("y", cy + 3);
  t.setAttribute("font-size", "8");
  t.setAttribute("text-anchor", "middle");
  t.setAttribute("style", "fill:#fff");
  
  
  t.textContent = "B";
});

// Latitude labels for the left column
const yGroup = document.getElementById("yLabels");
panels.slice(0, 4).forEach(function (p) {
  latMajorTicks.forEach(function (lat, i) {
    const t = make("text", yGroup);
    t.setAttribute("x", 74);
    t.setAttribute("y", yScale(p, lat) + 12);
    t.setAttribute("font-size", "34.6");
    t.setAttribute("text-anchor", "end");
    
    
    t.textContent = latTickLabels[i];
  });
});
</script>
</body>
</html>
